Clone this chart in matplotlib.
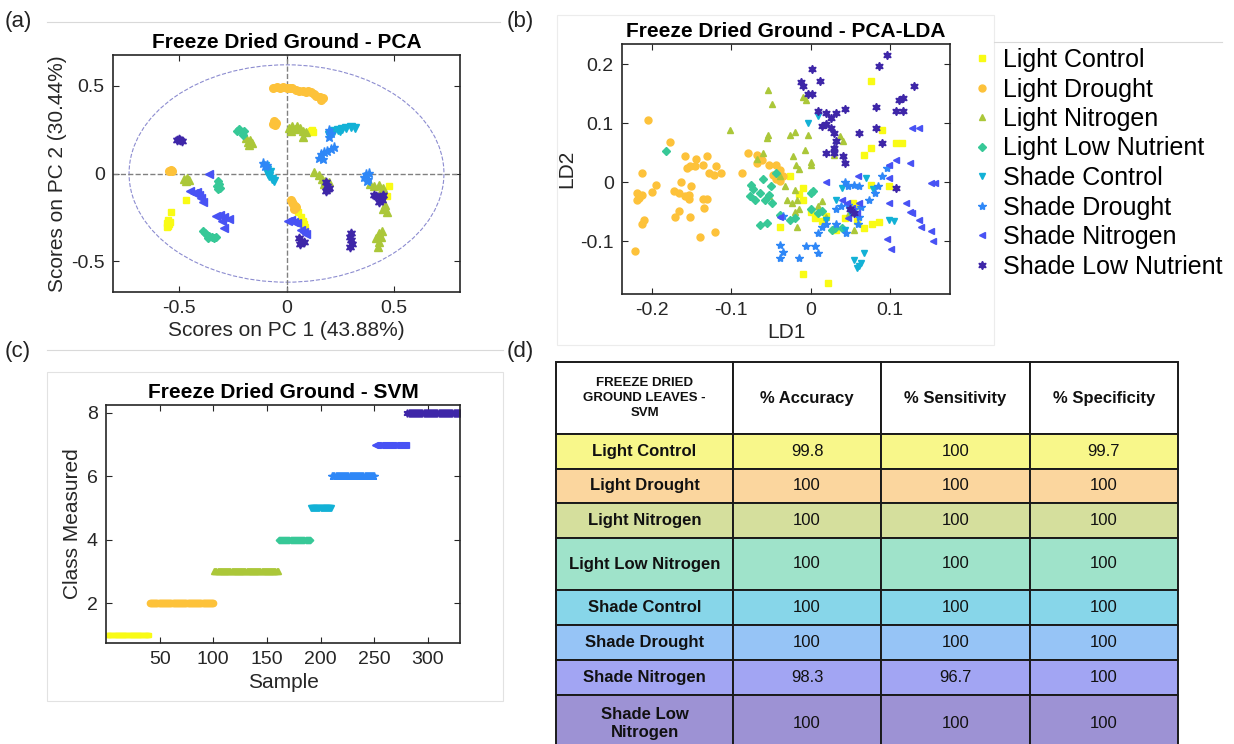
import matplotlib.pyplot as plt
from matplotlib.patches import Ellipse, Rectangle
from matplotlib.lines import Line2D

plt.rcParams['font.family'] = ['Liberation Sans', 'DejaVu Sans']
plt.rcParams['axes.unicode_minus'] = False

# groups, parula colours and gscatter markers
groups = ['Light Control', 'Light Drought', 'Light Nitrogen', 'Light Low Nutrient',
          'Shade Control', 'Shade Drought', 'Shade Nitrogen', 'Shade Low Nutrient']
colors = ['#f9fb15', '#fdc23a', '#abc739', '#37c897', '#12b1d6', '#2e87f7', '#4852f4', '#3e26a8']
markers = ['s', 'o', '^', 'D', 'v', '*', '<', (6, 1, 0)]
msizes = [4.2, 5.5, 5.5, 4.3, 5.5, 6.5, 5.5, 6.5]

# (a) PCA scores
pca_light_control = [(-0.555, -0.265), (-0.56, -0.28), (-0.55, -0.29), (-0.558, -0.305), (-0.545, -0.275),
                     (-0.552, -0.298), (-0.54, -0.22), (-0.47, -0.15), (0.055, -0.22), (0.07, -0.25),
                     (0.075, -0.27), (0.08, -0.29), (0.085, -0.305), (0.07, -0.285), (0.115, 0.245),
                     (0.125, 0.235), (0.12, 0.25), (0.48, -0.07), (0.47, -0.13)]
pca_light_drought = [(-0.065, 0.49), (-0.045, 0.495), (-0.03, 0.49), (-0.015, 0.495), (0.0, 0.49), (0.015, 0.49),
                     (0.028, 0.485), (0.045, 0.475), (0.06, 0.47), (0.075, 0.47), (0.09, 0.465), (0.1, 0.47),
                     (0.115, 0.465), (0.13, 0.455), (0.14, 0.44), (0.155, 0.435), (0.17, 0.43), (0.16, 0.42),
                     (-0.06, 0.3), (-0.065, 0.285), (-0.05, 0.29), (-0.055, 0.275), (-0.55, 0.015),
                     (-0.54, 0.02), (-0.535, 0.012), (0.02, -0.15), (0.025, -0.165), (0.03, -0.175),
                     (0.04, -0.185), (0.035, -0.2), (0.045, -0.19)]
pca_light_nitrogen = [(0.01, 0.26), (0.025, 0.27), (0.04, 0.255), (0.05, 0.27), (0.065, 0.26), (0.075, 0.245),
                      (0.09, 0.235), (0.075, 0.21), (0.02, 0.24), (-0.19, 0.2), (-0.18, 0.18), (-0.17, 0.19),
                      (-0.16, 0.175), (-0.175, 0.165), (-0.48, -0.03), (-0.465, -0.025), (-0.47, -0.04),
                      (-0.455, -0.035), (0.13, 0.01), (0.15, -0.01), (0.165, -0.03), (0.18, -0.045),
                      (0.175, -0.06), (0.19, -0.075), (0.2, -0.05), (0.39, -0.06), (0.41, -0.07), (0.43, -0.065),
                      (0.45, -0.08), (0.44, -0.1), (0.46, -0.18), (0.45, -0.2), (0.47, -0.22), (0.43, -0.34),
                      (0.42, -0.37), (0.44, -0.36), (0.43, -0.39), (0.425, -0.42), (0.445, -0.33)]
pca_light_low = [(-0.23, 0.245), (-0.22, 0.255), (-0.21, 0.235), (-0.2, 0.245), (-0.205, 0.22),
                 (-0.32, -0.04), (-0.315, -0.06), (-0.325, -0.07), (-0.31, -0.08), (-0.32, -0.09),
                 (-0.39, -0.33), (-0.38, -0.34), (-0.37, -0.35), (-0.36, -0.355), (-0.35, -0.36),
                 (-0.34, -0.37), (-0.33, -0.36), (-0.365, -0.37)]
pca_shade_control = [(-0.1, 0.04), (-0.09, 0.02), (-0.085, 0.0), (-0.08, -0.015), (-0.07, -0.03), (-0.06, -0.04),
                     (-0.075, 0.01), (0.2, 0.22), (0.22, 0.24), (0.24, 0.25), (0.26, 0.255), (0.28, 0.26),
                     (0.3, 0.265), (0.32, 0.26), (0.25, 0.24)]
pca_shade_drought = [(-0.11, 0.06), (-0.1, 0.045), (-0.09, 0.05), (0.15, 0.09), (0.16, 0.11), (0.175, 0.12),
                     (0.19, 0.13), (0.21, 0.14), (0.22, 0.15), (0.17, 0.08), (0.2, 0.25), (0.21, 0.23),
                     (0.2, 0.21), (0.36, -0.02), (0.37, 0.0), (0.38, -0.03), (0.375, -0.045), (0.385, 0.005)]
pca_shade_nitrogen = [(-0.36, 0.0), (-0.45, -0.1), (-0.43, -0.11), (-0.41, -0.12), (-0.4, -0.14), (-0.39, -0.16),
                      (-0.42, -0.105), (-0.33, -0.24), (-0.31, -0.235), (-0.29, -0.25), (-0.27, -0.26),
                      (-0.3, -0.27), (-0.29, -0.31), (0.005, -0.27), (0.02, -0.265), (0.035, -0.275),
                      (0.05, -0.28), (0.07, -0.32), (0.08, -0.335), (0.09, -0.345)]
pca_shade_low = [(-0.51, 0.19), (-0.5, 0.195), (-0.49, 0.185), (-0.495, 0.19), (0.185, -0.05), (0.19, -0.07),
                 (0.2, -0.08), (0.185, -0.1), (0.195, -0.09), (0.41, -0.12), (0.42, -0.13), (0.44, -0.14),
                 (0.45, -0.125), (0.445, -0.15), (0.43, -0.16), (0.06, -0.37), (0.07, -0.385), (0.08, -0.39),
                 (0.065, -0.4), (0.3, -0.34), (0.295, -0.36), (0.3, -0.38), (0.305, -0.4), (0.295, -0.42)]

# (b) PCA-LDA scores
lda_light_control = [(0.076, 0.171), (0.09, 0.089), (0.067, 0.047), (0.076, 0.058), (0.108, 0.066), (0.115, 0.067),
                     (0.076, -0.004), (0.099, -0.007), (-0.009, -0.01), (-0.009, -0.03), (-0.015, -0.02),
                     (-0.026, 0.01), (-0.038, -0.075), (0.0, -0.05), (0.005, -0.06), (0.015, -0.065),
                     (0.02, -0.057), (0.044, -0.06), (0.058, -0.065), (0.067, -0.077), (0.078, -0.07),
                     (0.087, -0.067), (-0.009, -0.156), (0.022, -0.17), (0.032, -0.08), (0.06, -0.04),
                     (0.053, -0.035)]
lda_light_drought = [(-0.205, 0.105), (-0.177, 0.068), (-0.159, 0.044), (-0.144, 0.04), (-0.131, 0.045),
                     (-0.152, 0.028), (-0.146, 0.027), (-0.156, 0.024), (-0.136, 0.03), (-0.128, 0.016),
                     (-0.119, 0.027), (-0.113, 0.015), (-0.122, 0.013), (-0.213, 0.015), (-0.195, -0.004),
                     (-0.2, -0.016), (-0.219, -0.018), (-0.216, -0.027), (-0.213, -0.021), (-0.219, -0.03),
                     (-0.21, -0.064), (-0.213, -0.07), (-0.221, -0.117), (-0.172, -0.014), (-0.163, 0.0),
                     (-0.166, -0.018), (-0.159, -0.024), (-0.153, -0.021), (-0.151, -0.007), (-0.154, -0.029),
                     (-0.136, -0.029), (-0.134, -0.044), (-0.131, -0.029), (-0.166, -0.049), (-0.171, -0.059),
                     (-0.152, -0.058), (-0.14, -0.092), (-0.121, -0.084), (-0.087, 0.015), (-0.079, 0.049),
                     (-0.067, 0.047), (-0.068, 0.033), (-0.061, 0.038), (-0.052, 0.029), (-0.044, 0.03),
                     (-0.039, 0.021), (-0.035, 0.01), (-0.047, 0.013), (-0.038, 0.002), (-0.044, 0.005)]
lda_light_nitrogen = [(-0.102, 0.089), (-0.054, 0.156), (-0.049, 0.132), (-0.054, 0.08), (-0.055, 0.075),
                      (-0.026, 0.08), (-0.02, 0.085), (-0.009, 0.145), (-0.006, 0.139), (-0.003, 0.08),
                      (-0.007, 0.054), (0.0, 0.035), (0.0, 0.03), (0.029, 0.047), (0.037, 0.078), (0.041, 0.07),
                      (-0.06, 0.049), (-0.068, 0.04), (-0.022, 0.044), (-0.015, 0.022), (-0.019, 0.03),
                      (-0.038, 0.01), (-0.032, -0.007), (-0.02, -0.013), (-0.03, -0.03), (-0.023, -0.035),
                      (-0.017, -0.03), (-0.02, -0.05), (-0.015, -0.046), (-0.017, -0.075), (0.009, -0.04),
                      (0.015, -0.032), (0.02, -0.058), (0.049, -0.052), (0.055, -0.08), (-0.052, -0.024)]
lda_light_low = [(-0.182, 0.053), (-0.075, -0.004), (-0.073, -0.012), (-0.076, -0.024), (-0.07, -0.03),
                 (-0.064, -0.018), (-0.058, -0.03), (-0.052, -0.021), (-0.049, -0.035), (-0.064, -0.072),
                 (-0.055, -0.069), (-0.038, -0.055), (-0.026, -0.064), (-0.02, -0.061), (0.0, -0.018),
                 (0.003, -0.015), (0.009, -0.052), (0.015, -0.049), (0.027, -0.08), (0.031, -0.077),
                 (0.04, -0.077), (-0.05, -0.007), (-0.06, 0.005), (-0.044, 0.015), (0.0, -0.045)]
lda_shade_control = [(-0.003, 0.1), (0.009, 0.112), (0.07, 0.007), (0.079, -0.012), (0.099, -0.063),
                     (0.105, -0.066), (0.055, -0.131), (0.064, -0.137), (0.061, -0.142), (0.067, -0.12),
                     (0.058, -0.145), (0.044, -0.08), (0.02, -0.063), (0.032, -0.03), (0.05, -0.05), (0.04, -0.01)]
lda_shade_drought = [(-0.038, -0.106), (-0.035, -0.118), (-0.038, -0.128), (-0.015, -0.128), (-0.006, -0.108),
                     (0.006, -0.108), (0.009, -0.12), (0.009, -0.086), (0.015, -0.075), (0.02, -0.07),
                     (0.032, -0.07), (0.044, 0.0), (0.047, -0.007), (0.055, -0.004), (0.061, -0.007),
                     (0.055, -0.046), (0.061, -0.058), (0.064, -0.041), (0.032, -0.046), (0.038, -0.04),
                     (0.047, -0.038), (0.081, -0.018), (0.085, -0.007), (0.09, 0.01), (0.096, 0.024),
                     (-0.035, -0.057), (0.074, -0.03), (0.06, -0.07), (0.045, -0.085)]
lda_shade_nitrogen = [(0.099, 0.03), (0.108, 0.038), (0.125, 0.032), (0.128, 0.092), (0.137, 0.092),
                      (0.152, -0.001), (0.157, -0.001), (0.099, 0.007), (0.099, -0.035), (0.12, -0.035),
                      (0.125, -0.05), (0.128, -0.052), (0.137, -0.063), (0.14, -0.075), (0.152, -0.083),
                      (0.155, -0.1), (0.096, -0.096), (0.101, -0.113), (0.04, -0.03), (0.046, -0.035),
                      (0.052, -0.044), (0.058, -0.052), (0.061, -0.035), (-0.038, -0.058), (0.02, 0.0),
                      (0.047, -0.06), (0.06, 0.01)]
lda_shade_low = [(0.096, 0.215), (0.087, 0.197), (0.13, 0.163), (0.111, 0.14), (0.117, 0.143), (0.108, 0.12),
                 (0.117, 0.12), (0.083, 0.128), (0.083, 0.092), (0.09, 0.067), (0.061, 0.084), (0.044, 0.124),
                 (0.002, 0.191), (0.012, 0.171), (-0.012, 0.169), (-0.009, 0.163), (-0.003, 0.15),
                 (0.002, 0.149), (0.009, 0.12), (0.02, 0.118), (0.032, 0.118), (0.026, 0.109), (0.014, 0.095),
                 (0.02, 0.098), (0.026, 0.092), (0.029, 0.084), (0.032, 0.07), (0.029, 0.058), (0.02, 0.05),
                 (0.03, 0.05), (0.041, 0.044), (0.044, 0.033), (0.108, -0.01), (0.05, -0.045), (0.055, -0.052)]

# (c) SVM: number of samples per class, in sample order
svm_counts = [40, 60, 60, 30, 20, 40, 30, 50]

# (d) SVM table
table_rows = ['Light Control', 'Light Drought', 'Light Nitrogen', 'Light Low Nitrogen',
              'Shade Control', 'Shade Drought', 'Shade Nitrogen', 'Shade Low\nNitrogen']
accuracy = ['99.8', '100', '100', '100', '100', '100', '98.3', '100']
sensitivity = ['100', '100', '100', '100', '100', '100', '96.7', '100']
specificity = ['99.7', '100', '100', '100', '100', '100', '100', '100']
row_colors = ['#f8f78a', '#fbd69e', '#d5df9d', '#9fe3ca', '#87d6e9', '#96c4f6', '#a2a5f3', '#9d92d4']

pca_sets = [pca_light_control, pca_light_drought, pca_light_nitrogen, pca_light_low,
            pca_shade_control, pca_shade_drought, pca_shade_nitrogen, pca_shade_low]
lda_sets = [lda_light_control, lda_light_drought, lda_light_nitrogen, lda_light_low,
            lda_shade_control, lda_shade_drought, lda_shade_nitrogen, lda_shade_low]

W, H = 1234, 744
fig = plt.figure(figsize=(W / 100, H / 100), dpi=100)


def box(l, t, r, b):
    return [l / W, 1 - b / H, (r - l) / W, (b - t) / H]


def matlab_axes(ax):
    for s in ax.spines.values():
        s.set_color('#262626')
        s.set_linewidth(1.2)
    ax.tick_params(direction='in', top=True, right=True, labelsize=14, length=4,
                   color='#262626', labelcolor='#262626', pad=6)


# faint frame lines from the page
for seg in [((47, 500), (22, 22)), ((47, 503), (350, 350)), ((994, 1222), (42, 42))]:
    fig.add_artist(Line2D([seg[0][0] / W, seg[0][1] / W], [1 - seg[1][0] / H, 1 - seg[1][1] / H],
                          color='#d9d9d9', lw=0.8))
fig.add_artist(Rectangle((47 / W, 1 - 701 / H), 456 / W, 329 / H, fill=False, ec='#e2e2e2', lw=0.8))
fig.add_artist(Rectangle((557 / W, 1 - 345 / H), 437 / W, 330 / H, fill=False, ec='#ececec', lw=0.8))

# ---- (a)
ax = fig.add_axes(box(113, 55, 460, 292))
ax.axhline(0, color='#808080', ls='--', lw=1)
ax.axvline(0, color='#808080', ls='--', lw=1)
ax.add_patch(Ellipse((0, 0), 1.47, 1.24, fill=False, ls='--', ec='#8c8cd0', lw=0.8))
for i in range(8):
    xs = [p[0] for p in pca_sets[i]]
    ys = [p[1] for p in pca_sets[i]]
    ax.plot(xs, ys, ls='none', marker=markers[i], ms=msizes[i], color=colors[i], mec=colors[i])
ax.set_xlim(-0.81, 0.81)
ax.set_ylim(-0.676, 0.676)
ax.set_xticks([-0.5, 0, 0.5])
ax.set_yticks([-0.5, 0, 0.5])
ax.set_xticklabels(['-0.5', '0', '0.5'])
ax.set_yticklabels(['-0.5', '0', '0.5'])
matlab_axes(ax)
ax.set_title('Freeze Dried Ground - PCA', fontsize=15, fontweight='bold', pad=5)
ax.set_xlabel('Scores on PC 1 (43.88%)', fontsize=15, color='#262626', labelpad=3)
ax.set_ylabel('Scores on PC 2 (30.44%)', fontsize=15, color='#262626', labelpad=3)

# ---- (b)
ax = fig.add_axes(box(622, 44, 950, 294))
handles = []
for i in range(8):
    xs = [p[0] for p in lda_sets[i]]
    ys = [p[1] for p in lda_sets[i]]
    h, = ax.plot(xs, ys, ls='none', marker=markers[i], ms=msizes[i] - 0.5, color=colors[i],
                 mec=colors[i], label=groups[i])
    handles.append(h)
ax.set_xlim(-0.238, 0.176)
ax.set_ylim(-0.189, 0.234)
ax.set_xticks([-0.2, -0.1, 0, 0.1])
ax.set_xticklabels(['-0.2', '-0.1', '0', '0.1'])
ax.set_yticks([-0.1, 0, 0.1, 0.2])
ax.set_yticklabels(['-0.1', '0', '0.1', '0.2'])
matlab_axes(ax)
ax.set_title('Freeze Dried Ground - PCA-LDA', fontsize=15, fontweight='bold', pad=5)
ax.set_xlabel('LD1', fontsize=15, color='#262626', labelpad=3)
ax.set_ylabel('LD2', fontsize=15, color='#262626', labelpad=3)
fig.legend(handles=handles, loc='upper left', bbox_to_anchor=(962 / W, 1 - 38 / H), frameon=False,
           fontsize=18, handlelength=0.8, handletextpad=0.45, labelspacing=0.22, borderaxespad=0)

# ---- (c)
ax = fig.add_axes(box(106, 405, 460, 643))
start = 1
for i in range(8):
    n = svm_counts[i]
    xs = list(range(start, start + n))
    ax.plot(xs, [i + 1] * n, ls='none', marker=markers[i], ms=msizes[i] - 1, color=colors[i], mec=colors[i])
    start += n
ax.set_xlim(0, 330)
ax.set_ylim(0.74, 8.25)
ax.set_xticks([50, 100, 150, 200, 250, 300])
ax.set_yticks([2, 4, 6, 8])
matlab_axes(ax)
ax.set_title('Freeze Dried Ground - SVM', fontsize=15, fontweight='bold', pad=5)
ax.set_xlabel('Sample', fontsize=15, color='#262626', labelpad=3)
ax.set_ylabel('Class Measured', fontsize=15, color='#262626', labelpad=3)

# ---- (d)
ax = fig.add_axes(box(556, 362, 1178, 752))
ax.axis('off')
cells = [[table_rows[i], accuracy[i], sensitivity[i], specificity[i]] for i in range(8)]
colours = [[c] * 4 for c in row_colors]
tbl = ax.table(cellText=cells, cellColours=colours,
               colLabels=['FREEZE DRIED\nGROUND LEAVES -\nSVM', '% Accuracy', '% Sensitivity', '% Specificity'],
               colColours=['white'] * 4, cellLoc='center', bbox=[0, 0, 1, 1])
tbl.auto_set_font_size(False)
tbl.set_fontsize(12)
col_w = [177, 148, 149, 148]
row_h = [72, 35, 34, 35, 52, 35, 35, 35, 57]
for (r, c), cell in tbl.get_celld().items():
    cell.set_width(col_w[c])
    cell.set_height(row_h[r])
    cell.set_edgecolor('#1a1a1a')
    cell.set_linewidth(1.4)
    txt = cell.get_text()
    txt.set_color('#111111')
    if r == 0 or c == 0:
        txt.set_fontweight('bold')
    if r == 0 and c == 0:
        txt.set_fontsize(9.5)
        txt.set_linespacing(1.3)

# panel letters
for lab, x, y in [('(a)', 18, 22), ('(b)', 520, 22), ('(c)', 18, 352), ('(d)', 520, 352)]:
    fig.text(x / W, 1 - y / H, lab, fontsize=16, ha='center', va='center', color='#222222')

fig.savefig('out.png', dpi=100)
